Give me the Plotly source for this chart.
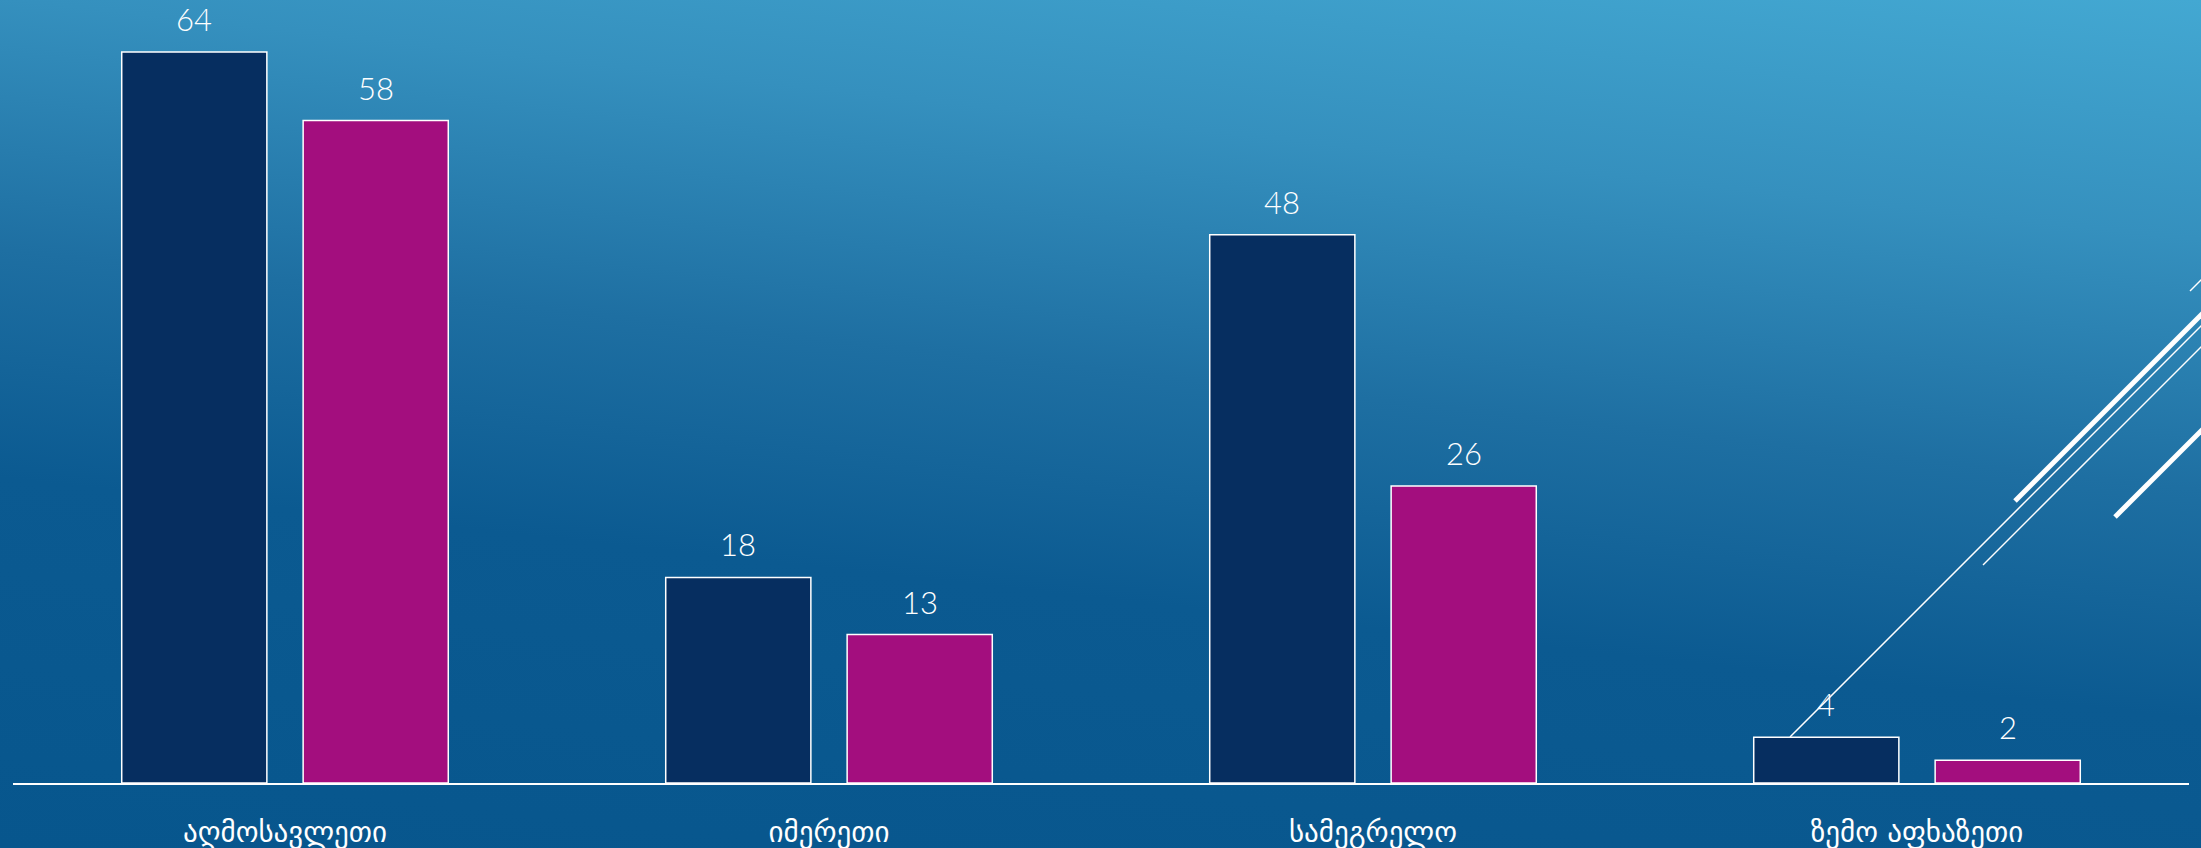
import base64
import plotly.graph_objects as go

# ---- data ----
categories = ["აღმოსავლეთი", "იმერეთი", "სამეგრელო", "ზემო აფხაზეთი"]
series_a = [64, 18, 48, 4]
series_b = [58, 13, 26, 2]
series_names = ["სერია 1", "სერია 2"]

# ---- layout constants ----
W, H = 2201, 848
ML, MR, MT, MB = 13, 12, 0, 65
PW, PH = W - ML - MR, H - MT - MB
YMAX = 68.56
BARGAP = 0.333
SLOT = (1 - BARGAP) / 2

DARK = "#062e60"
PINK = "#a30e7e"

# background gradient as svg
svg = f'''<svg xmlns="http://www.w3.org/2000/svg" width="{W}" height="{H}" viewBox="0 0 {W} {H}" preserveAspectRatio="none">
<defs><linearGradient id="g" gradientUnits="userSpaceOnUse" x1="2201" y1="0" x2="{2201 - 0.109*1083:.1f}" y2="{0.994*1083:.1f}">
<stop offset="0" stop-color="#43a8d2"/>
<stop offset="0.22" stop-color="#3590be"/>
<stop offset="0.45" stop-color="#1e6fa2"/>
<stop offset="0.66" stop-color="#0b5a91"/>
<stop offset="1" stop-color="#07568d"/>
</linearGradient></defs>
<rect x="0" y="0" width="{W}" height="{H}" fill="url(#g)"/>
</svg>'''
src = "data:image/svg+xml;base64," + base64.b64encode(svg.encode()).decode()

fig = go.Figure()
fig.add_trace(go.Bar(x=categories, y=series_a, name=series_names[0],
                     marker=dict(color=DARK, line=dict(color="white", width=1.5))))
fig.add_trace(go.Bar(x=categories, y=series_b, name=series_names[1],
                     marker=dict(color=PINK, line=dict(color="white", width=1.5))))

annotations = []
for i, (a, b) in enumerate(zip(series_a, series_b)):
    for off, v in ((-SLOT / 2, a), (SLOT / 2, b)):
        annotations.append(dict(x=i + off, y=v, xref="x", yref="y", text=str(v),
                                showarrow=False, yanchor="bottom", yshift=12,
                                font=dict(family="Lato, DejaVu Sans", size=31, color="white",
                                          weight=300)))


def px2paper(x, y):
    return (x - ML) / PW, (MT + PH - y) / PH


deco = [
    ((1790, 737), (2250, 277), 1.5),
    ((2015, 501), (2250, 266), 5),
    ((1983, 565), (2250, 298), 1.5),
    ((2115, 517), (2250, 382), 5),
    ((2190, 291), (2250, 231), 1.5),
]
shapes = []
for p0, p1, w in deco:
    x0, y0 = px2paper(*p0)
    x1, y1 = px2paper(*p1)
    shapes.append(dict(type="line", xref="paper", yref="paper", x0=x0, y0=y0, x1=x1, y1=y1,
                       line=dict(color="white", width=w), layer="below"))

fig.update_layout(
    width=W, height=H,
    margin=dict(l=ML, r=MR, t=MT, b=MB),
    barmode="group", bargap=BARGAP, bargroupgap=0.2,
    paper_bgcolor="#0a5a90", plot_bgcolor="rgba(0,0,0,0)",
    showlegend=False,
    annotations=annotations,
    shapes=shapes,
    images=[dict(source=src, xref="paper", yref="paper",
                 x=-ML / PW, y=1 + MT / PH, sizex=W / PW, sizey=H / PH,
                 xanchor="left", yanchor="top", sizing="stretch", layer="below")],
    xaxis=dict(showline=True, linecolor="white", linewidth=1.5, ticks="", showgrid=False,
               tickfont=dict(family="DejaVu Sans", size=29, color="white"),
               ticklabelstandoff=22, fixedrange=True),
    yaxis=dict(range=[0, YMAX], visible=False, showgrid=False, fixedrange=True),
)

fig.write_html("out.html", config={"displayModeBar": False},
               post_script="document.body.style.margin='0';document.body.style.overflow='hidden';")
